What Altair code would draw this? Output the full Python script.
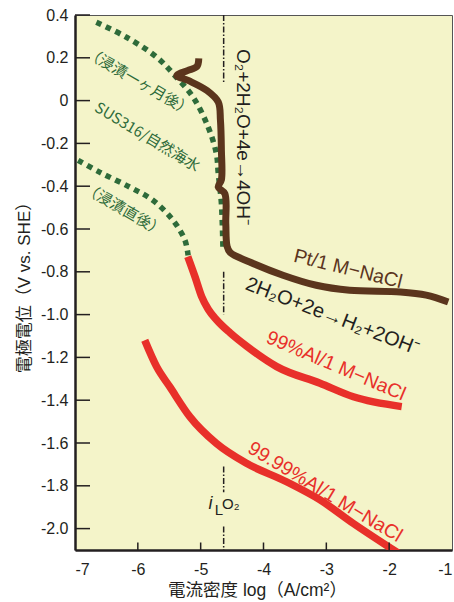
import altair as alt
import pandas as pd

# ---------------- data ----------------
brown_x = [-5.03, -5.06, -5.21, -5.38, -5.19, -4.90, -4.72, -4.685, -4.67, -4.67, -4.72, -4.615, -4.60, -4.58, -4.53, -4.22, -3.69, -3.16, -2.63, -1.82, -1.41, -1.06]
brown_y = [0.197, 0.159, 0.140, 0.117, 0.093, 0.047, -0.007, -0.093, -0.233, -0.37, -0.404, -0.435, -0.575, -0.68, -0.71, -0.754, -0.816, -0.863, -0.886, -0.894, -0.909, -0.941]

green1_x = [-6.66, -6.18, -5.70, -5.39, -5.12, -4.88, -4.75, -4.72, -4.67, -4.645]
green1_y = [0.366, 0.296, 0.203, 0.110, 0.016, -0.124, -0.248, -0.341, -0.481, -0.70]

green2_x = [-6.95, -6.61, -6.13, -5.76, -5.44, -5.25, -5.20]
green2_y = [-0.279, -0.334, -0.404, -0.466, -0.559, -0.653, -0.723]

red1_x = [-5.205, -5.09, -4.984, -4.88, -4.745, -4.533, -4.267, -3.79, -3.10, -2.57, -1.80]
red1_y = [-0.729, -0.823, -0.916, -0.975, -1.025, -1.085, -1.148, -1.243, -1.321, -1.384, -1.43]

red2_x = [-5.89, -5.70, -5.49, -5.17, -4.75, -4.27, -3.635, -3.10, -2.575, -1.85]
red2_y = [-1.12, -1.244, -1.338, -1.478, -1.602, -1.695, -1.781, -1.866, -1.975, -2.115]

il_x = -4.634
il_seg_top = [0.4, -0.80, -1.71, -1.99]
il_seg_bot = [0.087, -1.0, -1.83, -2.1]

y_ticks = [0.4, 0.2, 0.0, -0.2, -0.4, -0.6, -0.8, -1.0, -1.2, -1.4, -1.6, -1.8, -2.0]
x_ticks = [-7, -6, -5, -4, -3, -2, -1]

labels_text = ["（浸漬一ヶ月後）", "SUS316/自然海水", "（浸漬直後）",
               "O₂+2H₂O+4e→4OH⁻", "Pt/1 M−NaCl", "2H₂O+2e→H₂+2OH⁻",
               "99%Al/1 M−NaCl", "99.99%Al/1 M−NaCl"]
labels_x = [-5.98, -5.85, -6.22, -4.326, -2.655, -2.90, -2.846, -3.021]
labels_y = [0.087, -0.17, -0.511, -0.170, -0.787, -1.009, -1.240, -1.829]
labels_angle = [30, 31, 30, 90, 14, 21, 23, 31]
labels_color = ["#2e6b3a", "#2e6b3a", "#2e6b3a", "#231f20", "#5b351d", "#231f20", "#e8302a", "#e8302a"]
labels_size = [15, 15, 15, 19, 19.5, 20, 19.5, 19.5]

XMIN, XMAX, YMIN, YMAX = -7, -1, -2.1, 0.4
W, H = 377, 535

xs = alt.Scale(domain=[XMIN, XMAX], nice=False, zero=False)
ys = alt.Scale(domain=[YMIN, YMAX], nice=False, zero=False)

LATIN = "Liberation Sans, Noto Sans CJK JP"
CJK = "Noto Sans CJK JP"

X_AXIS = alt.Axis(
    values=x_ticks, title="電流密度 log（A/cm²）", ticks=False, grid=False,
    domainColor="#231f20", domainWidth=2.5, labelPadding=11,
    labelFont=LATIN, labelFontSize=16, labelColor="#231f20",
    labelExpr="replace(format(datum.value, 'd'), '−', '-')",
    titleFont=LATIN, titleFontSize=17.5, titleFontWeight="normal", titleColor="#231f20",
    titleX=182, titleY=40, titleBaseline="middle")
Y_AXIS = alt.Axis(
    values=y_ticks, title="電極電位（V vs. SHE）", ticks=False, grid=False,
    domainColor="#231f20", domainWidth=2.5, labelPadding=7,
    labelFont=LATIN, labelFontSize=16, labelColor="#231f20",
    labelExpr="datum.value == 0 ? '0' : replace(format(datum.value, '.1f'), '−', '-')",
    titleFont=LATIN, titleFontSize=17, titleFontWeight="normal", titleColor="#231f20",
    titleX=-51, titleY=268, titleBaseline="middle", titleAngle=-90)


def X(field="x"):
    return alt.X(f"{field}:Q", scale=xs, axis=X_AXIS)


def Y(field="y"):
    return alt.Y(f"{field}:Q", scale=ys, axis=Y_AXIS)


def curve(xv, yv):
    return pd.DataFrame({"x": xv, "y": yv, "o": list(range(len(xv)))})


def line_layer(df, color, width, dash=None, interp="monotone"):
    kw = dict(color=color, strokeWidth=width, interpolate=interp, clip=True, strokeCap="butt")
    if dash:
        kw["strokeDash"] = dash
    return alt.Chart(df).mark_line(**kw).encode(x=X(), y=Y(), order="o:Q")


# vertical i_L line (dash-dot segments)
il_df = pd.DataFrame({"x": [il_x] * len(il_seg_top), "y": il_seg_top, "y2": il_seg_bot})
il_layer = alt.Chart(il_df).mark_rule(color="#231f20", strokeWidth=1.5, strokeDash=[6, 2, 1.5, 2]).encode(
    x=X(), y=Y(), y2="y2:Q")

# inward ticks
ytick_df = pd.DataFrame({"x": [XMIN] * len(y_ticks), "x2": [XMIN + 15 / W * (XMAX - XMIN)] * len(y_ticks), "y": y_ticks})
ytick_layer = alt.Chart(ytick_df).mark_rule(color="#231f20", strokeWidth=1.5).encode(
    x=X(), x2="x2:Q", y=Y())
xtick_df = pd.DataFrame({"x": x_ticks[1:-1], "y": [YMIN] * 5, "y2": [YMIN + 7.5 / H * (YMAX - YMIN)] * 5})
xtick_layer = alt.Chart(xtick_df).mark_rule(color="#231f20", strokeWidth=1.5).encode(
    x=X(), y=Y(), y2="y2:Q")

layers = [
    line_layer(curve(green2_x, green2_y), "#2e6b3a", 5.5, [5.5, 5], "catmull-rom"),
    line_layer(curve(green1_x, green1_y), "#2e6b3a", 5.5, [5.5, 5], "catmull-rom"),
    il_layer,
    line_layer(curve(brown_x, brown_y), "#5b351d", 7, interp="catmull-rom"),
    line_layer(curve(red1_x, red1_y), "#e8302a", 7.5, interp="monotone"),
    line_layer(curve(red2_x, red2_y), "#e8302a", 7.5, interp="monotone"),
    ytick_layer,
    xtick_layer,
]

lab_df = pd.DataFrame({"x": labels_x, "y": labels_y, "t": labels_text})
for i in range(len(labels_text)):
    font = CJK if i < 3 else LATIN
    d = lab_df.iloc[[i]]
    layers.append(alt.Chart(d).mark_text(font=font, fontSize=labels_size[i], angle=labels_angle[i],
                                         color=labels_color[i], align="center", baseline="middle").encode(
        x=X(), y=Y(), text="t:N"))

# i_L^O2 label
il_lab = pd.DataFrame({"x": [-4.845, -4.71, -4.52], "y": [-1.887, -1.913, -1.885], "t": ["i", "L", "O₂"]})
il_sizes = [18, 15, 15]
il_styles = ["italic", "normal", "normal"]
for i in range(3):
    layers.append(alt.Chart(il_lab.iloc[[i]]).mark_text(font=LATIN, fontSize=il_sizes[i], fontStyle=il_styles[i],
                                                         color="#231f20", align="center", baseline="middle").encode(
        x=X(), y=Y(), text="t:N"))

chart = alt.layer(*layers).properties(
    width=W, height=H,
    autosize=alt.AutoSizeParams(type="none"),
    padding={"left": 75, "top": 15, "right": 2, "bottom": 52},
    background="white",
).configure_view(fill="#f4f4c9", stroke="#555555", strokeWidth=1)

chart.save("out.html", embed_options={"renderer": "svg", "actions": False})
